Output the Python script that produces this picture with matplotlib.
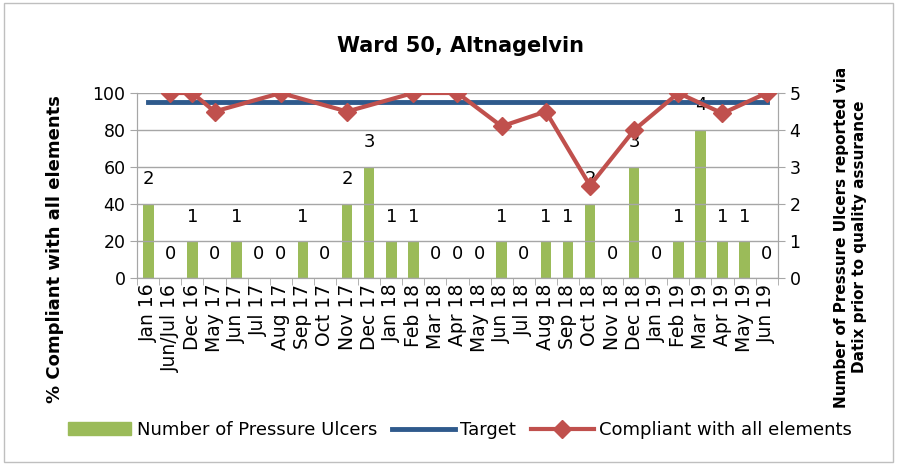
import numpy as np
import matplotlib
matplotlib.use('Agg')
import matplotlib.pyplot as plt
from matplotlib.patches import Rectangle

# data
months = ['Jan 16', 'Jun/Jul 16', 'Dec 16', 'May 17', 'Jun 17', 'Jul 17', 'Aug 17',
          'Sep 17', 'Oct 17', 'Nov 17', 'Dec 17', 'Jan 18', 'Feb 18', 'Mar 18',
          'Apr 18', 'May 18', 'Jun 18', 'Jul 18', 'Aug 18', 'Sep 18', 'Oct 18',
          'Nov 18', 'Dec 18', 'Jan 19', 'Feb 19', 'Mar 19', 'Apr 19', 'May 19', 'Jun 19']
ulcers = [2, 0, 1, 0, 1, 0, 0, 1, 0, 2, 3, 1, 1, 0, 0, 0, 1, 0, 1, 1, 2, 0, 3, 0, 1, 4, 1, 1, 0]
target = [95] * len(months)
compliant = [np.nan, 100, 100, 90, np.nan, np.nan, 100, np.nan, np.nan, 90, np.nan, np.nan,
             100, np.nan, 100, np.nan, 82, np.nan, 90, np.nan, 50, np.nan, 80, np.nan,
             100, np.nan, 89, np.nan, 100]

plt.rcParams['font.family'] = 'DejaVu Sans'

x = np.arange(len(months))
comp = np.array(compliant, dtype=float)
ok = ~np.isnan(comp)

fig = plt.figure(figsize=(8.97, 4.65), dpi=100)
fig.patches.append(Rectangle((0.004, 0.006), 0.992, 0.988, transform=fig.transFigure,
                             fill=False, edgecolor='#BFBFBF', lw=1))
ax = fig.add_axes([0.153, 0.402, 0.714, 0.398])
ax2 = ax.twinx()

# bars on the right axis
ax2.bar(x, ulcers, width=0.48, color='#9BBB59', zorder=2)
for xi, v in zip(x, ulcers):
    ax2.text(xi, v + 0.42, str(v), ha='center', va='bottom', fontsize=13)

ax.set_zorder(ax2.get_zorder() + 1)
ax.patch.set_visible(False)
ax.plot(x, target, color='#2F5A8C', lw=3.5, zorder=3)
ax.plot(x[ok], comp[ok], color='#C0504D', lw=3, marker='D', markersize=9.5, zorder=4)

ax.set_xlim(-0.5, len(months) - 0.5)
ax.set_ylim(0, 100)
ax2.set_ylim(0, 5)
ax.set_yticks(np.arange(0, 101, 20))
ax2.set_yticks(np.arange(0, 6, 1))
ax.yaxis.grid(True, color='#A6A6A6', lw=1)
ax.set_axisbelow(True)

ax.set_xticks(x)
ax.set_xticklabels(months, rotation=90, fontsize=13.5)
ax.set_xticks(np.arange(-0.5, len(months)), minor=True)
ax.tick_params(axis='x', which='major', length=0, pad=4)
ax.tick_params(axis='x', which='minor', length=5, color='#A6A6A6')
ax.tick_params(axis='y', length=5, color='#A6A6A6', labelsize=12.5)
ax2.tick_params(axis='y', length=5, color='#A6A6A6', labelsize=12.5)

for a in (ax, ax2):
    a.spines['top'].set_visible(False)
    for s in ('left', 'right', 'bottom'):
        a.spines[s].set_color('#A6A6A6')

fig.text(0.061, 0.4645, '% Compliant with all elements', rotation=90, ha='center',
         va='center', fontsize=13, fontweight='bold')
fig.text(0.948, 0.49, 'Number of Pressure Ulcers reported via\nDatix prior to quality assurance',
         rotation=90, ha='center', va='center', fontsize=11, fontweight='bold')
fig.text(0.513, 0.9, 'Ward 50, Altnagelvin', ha='center', va='center',
         fontsize=15, fontweight='bold')

h1 = Rectangle((0, 0), 1, 1, color='#9BBB59')
h2, = ax.plot([], [], color='#2F5A8C', lw=3.5)
h3, = ax.plot([], [], color='#C0504D', lw=3, marker='D', markersize=9)
fig.legend([h1, h2, h3], ['Number of Pressure Ulcers', 'Target', 'Compliant with all elements'],
           loc='center', bbox_to_anchor=(0.513, 0.075), ncol=3, frameon=False,
           fontsize=13, handlelength=3.5, columnspacing=0.8, handletextpad=0.3)

fig.savefig('out.png', dpi=100)
